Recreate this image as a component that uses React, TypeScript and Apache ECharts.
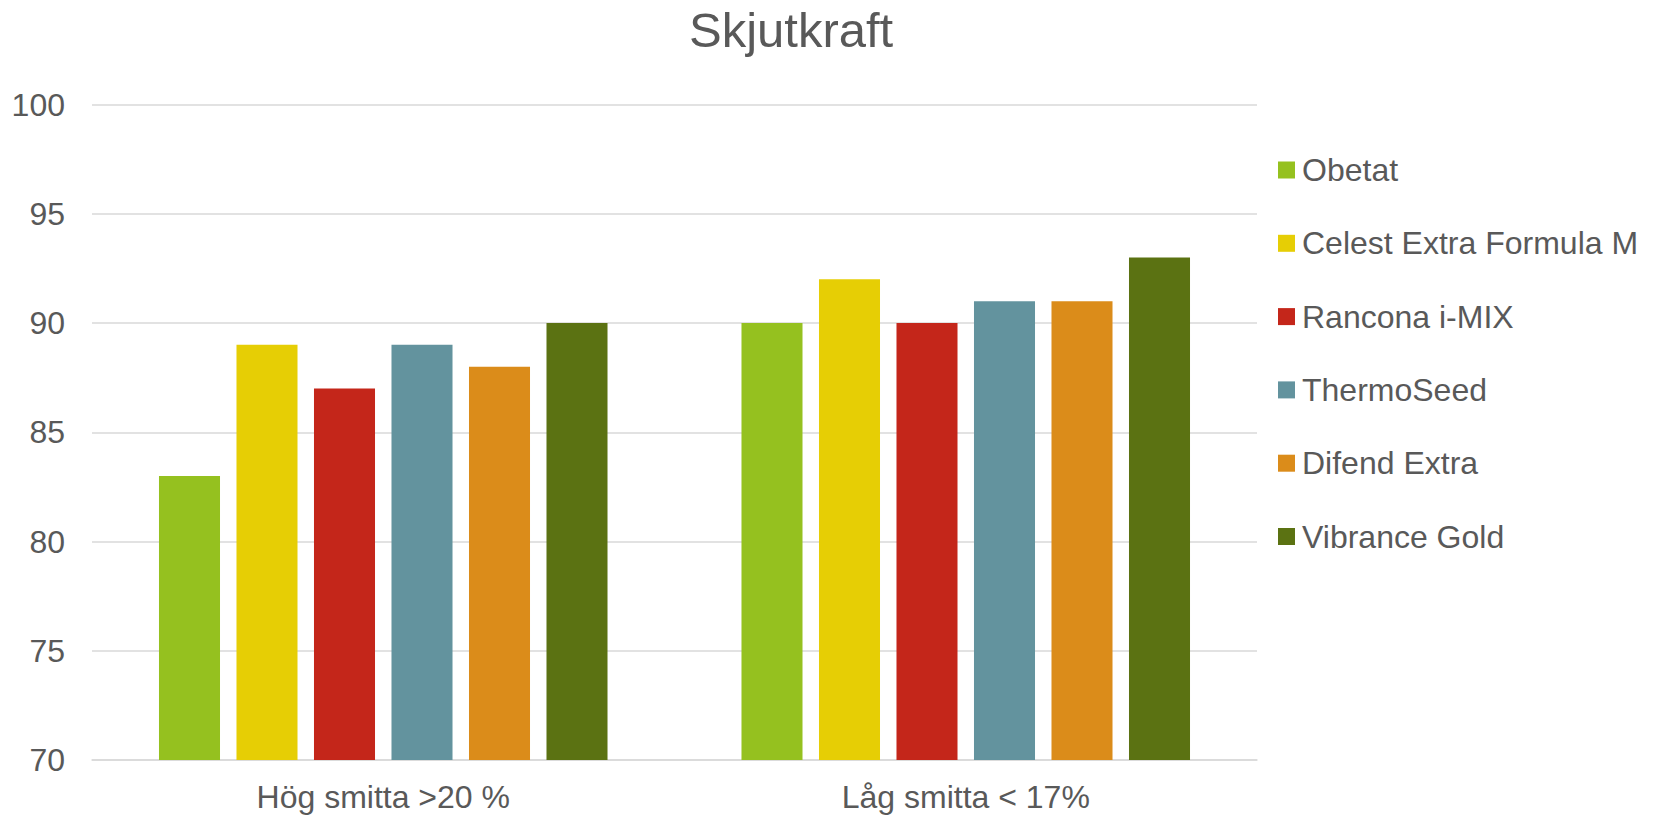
import React, { useEffect, useRef } from "react";
import * as echarts from "echarts";

const categories = ["Hög smitta >20 %", "Låg smitta < 17%"];
const seriesNames = [
  "Obetat",
  "Celest Extra Formula M",
  "Rancona i-MIX",
  "ThermoSeed",
  "Difend Extra",
  "Vibrance Gold",
];
const obetat = [83, 90];
const celest = [89, 92];
const rancona = [87, 90];
const thermoSeed = [89, 91];
const difend = [88, 91];
const vibrance = [90, 93];
const seriesValues = [obetat, celest, rancona, thermoSeed, difend, vibrance];
const colors = ["#95c11f", "#e6ce05", "#c4261a", "#63939e", "#db8c1a", "#5b7212"];

const yMin = 70;
const yMax = 100;
const yStep = 5;

const FONT = "'Liberation Sans', Arial, sans-serif";
const TEXT = "#595959";

export default function App() {
  const ref = useRef<HTMLDivElement>(null);
  useEffect(() => {
    if (!ref.current) return;
    const chart = echarts.init(ref.current, null, { renderer: "svg" });
    chart.setOption({
      animation: false,
      backgroundColor: "#ffffff",
      color: colors,
      title: {
        text: "Skjutkraft",
        left: 689,
        top: 5,
        padding: 0,
        textStyle: { fontFamily: FONT, fontSize: 49, fontWeight: "normal", color: TEXT },
      },
      legend: {
        orient: "vertical",
        left: 1278,
        top: 154,
        padding: 0,
        itemWidth: 17,
        itemHeight: 17,
        itemGap: 41.3,
        icon: "rect",
        textStyle: { fontFamily: FONT, fontSize: 32, color: TEXT, padding: [0, 0, 0, 2] },
        data: seriesNames,
      },
      grid: { left: 92, right: 396, top: 104.5, bottom: 57, containLabel: false },
      xAxis: {
        type: "category",
        data: categories,
        axisLine: { lineStyle: { color: "#d9d9d9", width: 1.5 } },
        axisTick: { show: false },
        axisLabel: { fontFamily: FONT, fontSize: 32, color: TEXT, margin: 21 },
      },
      yAxis: {
        type: "value",
        min: yMin,
        max: yMax,
        interval: yStep,
        axisLine: { show: false },
        axisTick: { show: false },
        splitLine: { lineStyle: { color: "#d9d9d9", width: 1.5 } },
        axisLabel: { fontFamily: FONT, fontSize: 32, color: TEXT, margin: 27 },
      },
      series: seriesNames.map((name, i) => ({
        name,
        type: "bar",
        data: seriesValues[i],
        barGap: "27%",
        barCategoryGap: "23%",
        itemStyle: { color: colors[i] },
      })),
    });
    return () => chart.dispose();
  }, []);
  return (
    <div
      ref={ref}
      style={{ position: "fixed", left: 0, top: 0, width: 1653, height: 817 }}
    />
  );
}
